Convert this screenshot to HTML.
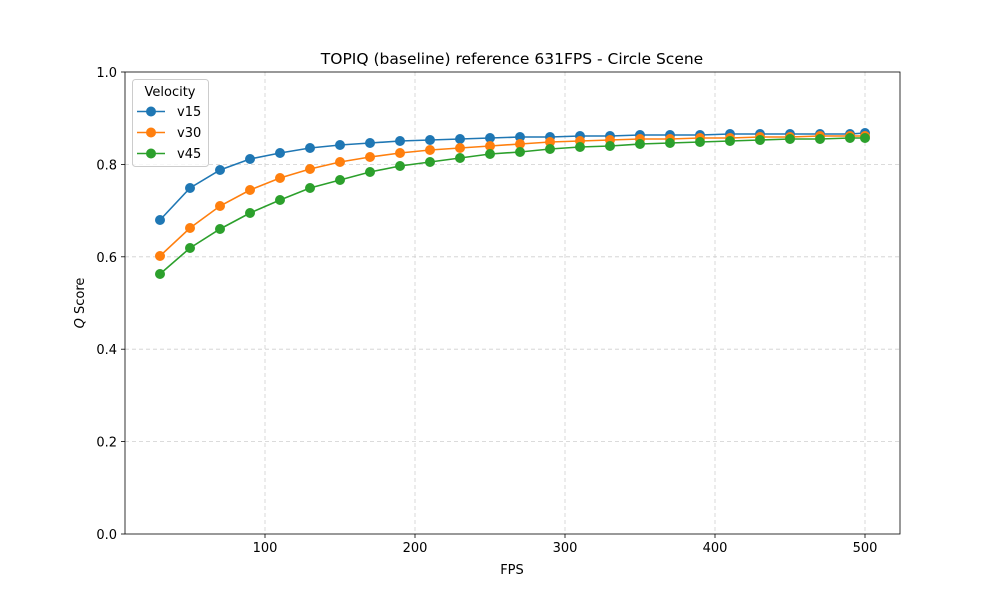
<!DOCTYPE html>
<html><head><meta charset="utf-8"><style>html,body{margin:0;background:#fff}svg{display:block;font-family:"DejaVu Sans","Liberation Sans",sans-serif}</style></head>
<body>
<svg width="1000" height="600" viewBox="0 0 1000 600" xmlns="http://www.w3.org/2000/svg">
<defs>
<marker id="mb" markerWidth="12" markerHeight="12" refX="6" refY="6" markerUnits="userSpaceOnUse"><circle cx="6" cy="6" r="5" fill="#1f77b4"/></marker>
<marker id="mo" markerWidth="12" markerHeight="12" refX="6" refY="6" markerUnits="userSpaceOnUse"><circle cx="6" cy="6" r="5" fill="#ff7f0e"/></marker>
<marker id="mg" markerWidth="12" markerHeight="12" refX="6" refY="6" markerUnits="userSpaceOnUse"><circle cx="6" cy="6" r="5" fill="#2ca02c"/></marker>
</defs>
<rect width="1000" height="600" fill="#fff"/>
<g stroke="#cfcfcf" stroke-width="0.8" stroke-dasharray="4,3">
<line x1="265" y1="72" x2="265" y2="534"/><line x1="415" y1="72" x2="415" y2="534"/><line x1="565" y1="72" x2="565" y2="534"/><line x1="715" y1="72" x2="715" y2="534"/><line x1="865" y1="72" x2="865" y2="534"/>
<line x1="125" y1="441.6" x2="900" y2="441.6"/><line x1="125" y1="349.2" x2="900" y2="349.2"/><line x1="125" y1="256.8" x2="900" y2="256.8"/><line x1="125" y1="164.4" x2="900" y2="164.4"/>
</g>
<g fill="none" stroke-width="1.6">
<polyline stroke="#1f77b4" marker-start="url(#mb)" marker-mid="url(#mb)" marker-end="url(#mb)" points="160,220 190,188 220,170 250,159 280,153 310,148 340,145 370,143 400,141 430,140 460,139 490,138 520,137 550,137 580,136 610,136 640,135 670,135 700,135 730,134 760,134 790,134 820,134 850,134 865,133"/>
<polyline stroke="#ff7f0e" marker-start="url(#mo)" marker-mid="url(#mo)" marker-end="url(#mo)" points="160,256 190,228 220,206 250,190 280,178 310,169 340,162 370,157 400,153 430,150 460,148 490,146 520,144 550,142 580,141 610,140 640,139 670,139 700,138 730,138 760,137 790,137 820,136 850,136 865,136"/>
<polyline stroke="#2ca02c" marker-start="url(#mg)" marker-mid="url(#mg)" marker-end="url(#mg)" points="160,274 190,248 220,229 250,213 280,200 310,188 340,180 370,172 400,166 430,162 460,158 490,154 520,152 550,149 580,147 610,146 640,144 670,143 700,142 730,141 760,140 790,139 820,139 850,138 865,138"/>
</g>
<rect x="125" y="72" width="775" height="462" fill="none" stroke="#000" stroke-width="0.8"/>
<g stroke="#000" stroke-width="0.8">
<line x1="265" y1="534" x2="265" y2="538"/><line x1="415" y1="534" x2="415" y2="538"/><line x1="565" y1="534" x2="565" y2="538"/><line x1="715" y1="534" x2="715" y2="538"/><line x1="865" y1="534" x2="865" y2="538"/>
<line x1="121" y1="534" x2="125" y2="534"/><line x1="121" y1="441.6" x2="125" y2="441.6"/><line x1="121" y1="349.2" x2="125" y2="349.2"/><line x1="121" y1="256.8" x2="125" y2="256.8"/><line x1="121" y1="164.4" x2="125" y2="164.4"/><line x1="121" y1="72" x2="125" y2="72"/>
</g>
<g font-size="13" fill="#000">
<g text-anchor="middle"><text x="265" y="552">100</text><text x="415" y="552">200</text><text x="565" y="552">300</text><text x="715" y="552">400</text><text x="865" y="552">500</text></g>
<g text-anchor="end"><text x="117" y="539">0.0</text><text x="117" y="446.6">0.2</text><text x="117" y="354.2">0.4</text><text x="117" y="261.8">0.6</text><text x="117" y="169.4">0.8</text><text x="117" y="77">1.0</text></g>
<text x="512" y="574" text-anchor="middle">FPS</text>
<text transform="translate(84,303) rotate(-90)" text-anchor="middle"><tspan font-style="italic">Q</tspan> Score</text>
<text x="512" y="64" text-anchor="middle" font-size="15.5">TOPIQ (baseline) reference 631FPS - Circle Scene</text>
</g>
<rect x="132.5" y="79.5" width="76" height="87" rx="3" fill="#fff" fill-opacity="0.8" stroke="#ccc"/>
<g font-size="13" fill="#000">
<text x="170" y="96" text-anchor="middle">Velocity</text>
<text x="177" y="116">v15</text><text x="177" y="137">v30</text><text x="177" y="158">v45</text>
</g>
<line x1="137" y1="111.5" x2="165" y2="111.5" stroke="#1f77b4" stroke-width="1.6"/><circle cx="151" cy="111.5" r="5" fill="#1f77b4"/>
<line x1="137" y1="132.5" x2="165" y2="132.5" stroke="#ff7f0e" stroke-width="1.6"/><circle cx="151" cy="132.5" r="5" fill="#ff7f0e"/>
<line x1="137" y1="153.5" x2="165" y2="153.5" stroke="#2ca02c" stroke-width="1.6"/><circle cx="151" cy="153.5" r="5" fill="#2ca02c"/>
</svg>
</body></html>
